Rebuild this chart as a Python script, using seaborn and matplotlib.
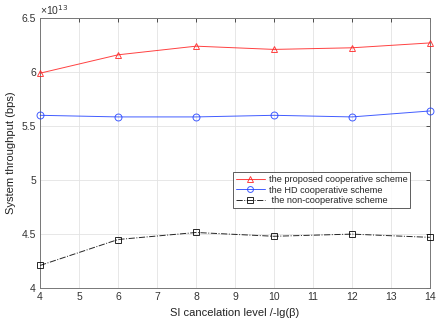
import seaborn as sns
import matplotlib.pyplot as plt
import pandas as pd
from matplotlib.ticker import FuncFormatter

# SI cancelation level and throughput (in units of 1e13 bps)
si_level = [4, 6, 8, 10, 12, 14]
proposed = [5.99, 6.16, 6.24, 6.21, 6.225, 6.27]
hd_coop = [5.60, 5.585, 5.585, 5.60, 5.585, 5.64]
non_coop = [4.21, 4.45, 4.515, 4.48, 4.50, 4.47]

labels = ["the proposed cooperative scheme",
          "the HD cooperative scheme",
          " the non-cooperative scheme"]
SCALE = 1e13

rows = []
for name, vals in zip(labels, [proposed, hd_coop, non_coop]):
    for x, v in zip(si_level, vals):
        rows.append({"si": x, "thr": v * SCALE, "scheme": name})
df = pd.DataFrame(rows)

sns.set_style("white")
plt.rcParams["font.family"] = ["Liberation Sans", "DejaVu Sans"]
plt.rcParams["font.size"] = 7

fig = plt.figure(figsize=(4.36, 3.23), dpi=100)
ax = fig.add_axes([0.092, 0.108, 0.894, 0.836])

styles = {
    labels[0]: dict(color="#ff2020", marker="^", ls="-"),
    labels[1]: dict(color="#2040ff", marker="o", ls="-"),
    labels[2]: dict(color="#000000", marker="s", ls="-."),
}
for name in labels:
    st = styles[name]
    sns.lineplot(data=df[df.scheme == name], x="si", y="thr", ax=ax,
                 color=st["color"], marker=st["marker"], linestyle=st["ls"],
                 linewidth=0.7, markersize=5, markerfacecolor="none",
                 markeredgecolor=st["color"], markeredgewidth=0.7,
                 label=name, alpha=0.85, clip_on=False, zorder=3)

ax.set_xlim(4, 14)
ax.set_ylim(4 * SCALE, 6.5 * SCALE)
ax.set_xticks(range(4, 15))
ax.set_yticks([v * SCALE for v in [4, 4.5, 5, 5.5, 6, 6.5]])
ax.yaxis.set_major_formatter(FuncFormatter(lambda v, p: "%g" % (v / SCALE)))
ax.grid(True, color="#e3e3e3", linewidth=0.6)
ax.tick_params(direction="in", length=3, width=0.6, colors="#333333",
               labelsize=7.5, top=True, right=True, pad=3)
for s in ax.spines.values():
    s.set_color("#777777")
    s.set_linewidth(0.7)

ax.set_xlabel("SI cancelation level /-lg(\u03b2)", fontsize=8, color="#222222")
ax.set_ylabel("System throughput (bps)", fontsize=8, color="#222222")
ax.text(0.0, 1.005, "\u00d710$^{13}$", transform=ax.transAxes,
        fontsize=7.5, color="#333333", va="bottom", ha="left")

leg = ax.legend(loc="upper left", bbox_to_anchor=(0.495, 0.43), fontsize=6.6,
                frameon=True, fancybox=False, edgecolor="#333333",
                borderpad=0.3, labelspacing=0.2, handlelength=3.2,
                handletextpad=0.4, borderaxespad=0, markerscale=0.85)
leg.get_frame().set_linewidth(0.7)

fig.savefig("out.png", dpi=100)
